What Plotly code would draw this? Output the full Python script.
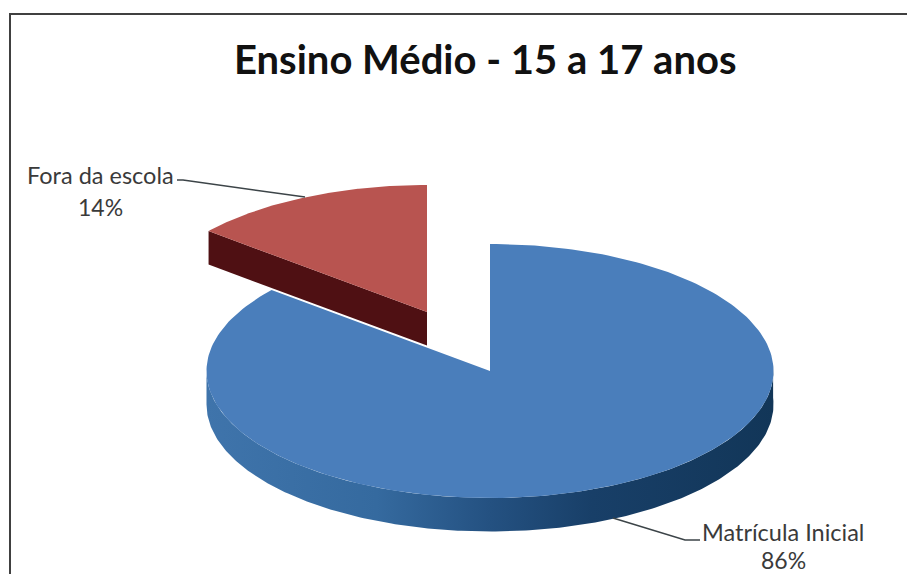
import numpy as np
import plotly.graph_objects as go

# Chart data
categories = ["Matrícula Inicial", "Fora da escola"]
shares = [86, 14]
chart_title = "Ensino Médio - 15 a 17 anos"

# Pie geometry on a pixel-scaled plot area
RX, RY, DEPTH = 283.5, 127.0, 33.5
CENTER = (490.0, 371.0)
EXPLODE = (-63.0, -59.0)

TOP_COLORS = ["#4a7ebb", "#b85450"]
RED_SIDE = "#4f1013"
FONT = "Lato, Open Sans, sans-serif"
TEXT = "#3a3a3a"


def ellipse(cx, cy, a0, a1, n=240):
    """Points on the rim; angles in degrees, clockwise from 12 o'clock."""
    t = np.radians(np.linspace(a0, a1, n))
    return cx + RX * np.sin(t), cy - RY * np.cos(t)


fractions = np.array(shares) / sum(shares)
blue_end = 360 * fractions[0]
fig = go.Figure()

# Blue slice: visible rim first, then the top face
cx, cy = CENTER
rim_x, rim_y = ellipse(cx, cy, 90 - 3, 270)
fig.add_trace(go.Scatter(
    x=np.r_[rim_x, rim_x[::-1]],
    y=np.r_[rim_y, rim_y[::-1] + DEPTH],
    mode="lines", line=dict(width=0), fill="toself",
    fillgradient=dict(
        type="horizontal",
        colorscale=[[0, "#3f74ab"], [0.3, "#356a9f"], [0.5, "#245181"],
                    [0.68, "#183f68"], [1, "#123658"]],
    ),
    hoverinfo="skip", showlegend=False,
))
ex, ey = ellipse(cx, cy, 0, blue_end)
fig.add_trace(go.Scatter(
    x=np.r_[cx, ex, cx], y=np.r_[cy, ey, cy],
    mode="lines", line=dict(width=0), fill="toself", fillcolor=TOP_COLORS[0],
    name=categories[0], hoverinfo="name", showlegend=False,
))

# Red slice, pulled out towards the upper left
rx0, ry0 = cx + EXPLODE[0], cy + EXPLODE[1]
sx, sy = ellipse(rx0, ry0, blue_end, 360)
fig.add_trace(go.Scatter(
    x=[rx0, sx[0], sx[0], rx0, rx0],
    y=[ry0, sy[0], sy[0] + DEPTH, ry0 + DEPTH, ry0],
    mode="lines", line=dict(width=0), fill="toself", fillcolor=RED_SIDE,
    hoverinfo="skip", showlegend=False,
))
fig.add_trace(go.Scatter(
    x=np.r_[rx0, sx, rx0], y=np.r_[ry0, sy, ry0],
    mode="lines", line=dict(width=0), fill="toself", fillcolor=TOP_COLORS[1],
    name=categories[1], hoverinfo="name", showlegend=False,
))

# Leader lines from the slices to their labels
leaders = [([613, 685, 700], [518, 540, 540]), ([177, 183, 305], [180, 180, 197])]
for lx, ly in leaders:
    fig.add_trace(go.Scatter(
        x=lx, y=ly, mode="lines", line=dict(color="#3c4448", width=1.5),
        hoverinfo="skip", showlegend=False,
    ))

# Slice labels, two lines each
label_spots = [(783, 532, 560), (100, 175, 207)]
for cat, val, (lx, y1, y2) in zip(categories, shares, label_spots):
    fig.add_annotation(x=lx, y=y1, text=cat, showarrow=False,
                       font=dict(family=FONT, size=23.5, color=TEXT))
    fig.add_annotation(x=lx, y=y2, text=f"{val}%", showarrow=False,
                       font=dict(family=FONT, size=23, color=TEXT))

fig.add_annotation(x=485, y=59, text=f"<b>{chart_title}</b>", showarrow=False,
                   font=dict(family=FONT, size=40, color="#111111"))

# Frame: closed on the top and left, running off the page elsewhere
fig.add_shape(type="line", x0=10, y0=14, x1=907, y1=14, line=dict(color="#404040", width=2))
fig.add_shape(type="line", x0=10, y0=13, x1=10, y1=574, line=dict(color="#404040", width=2))

fig.update_xaxes(range=[0, 907], visible=False, fixedrange=True)
fig.update_yaxes(range=[574, 0], visible=False, fixedrange=True)
fig.update_layout(
    width=907, height=574, margin=dict(l=0, r=0, t=0, b=0),
    paper_bgcolor="white", plot_bgcolor="white",
)
fig.write_html("out.html", config={"displayModeBar": False})
